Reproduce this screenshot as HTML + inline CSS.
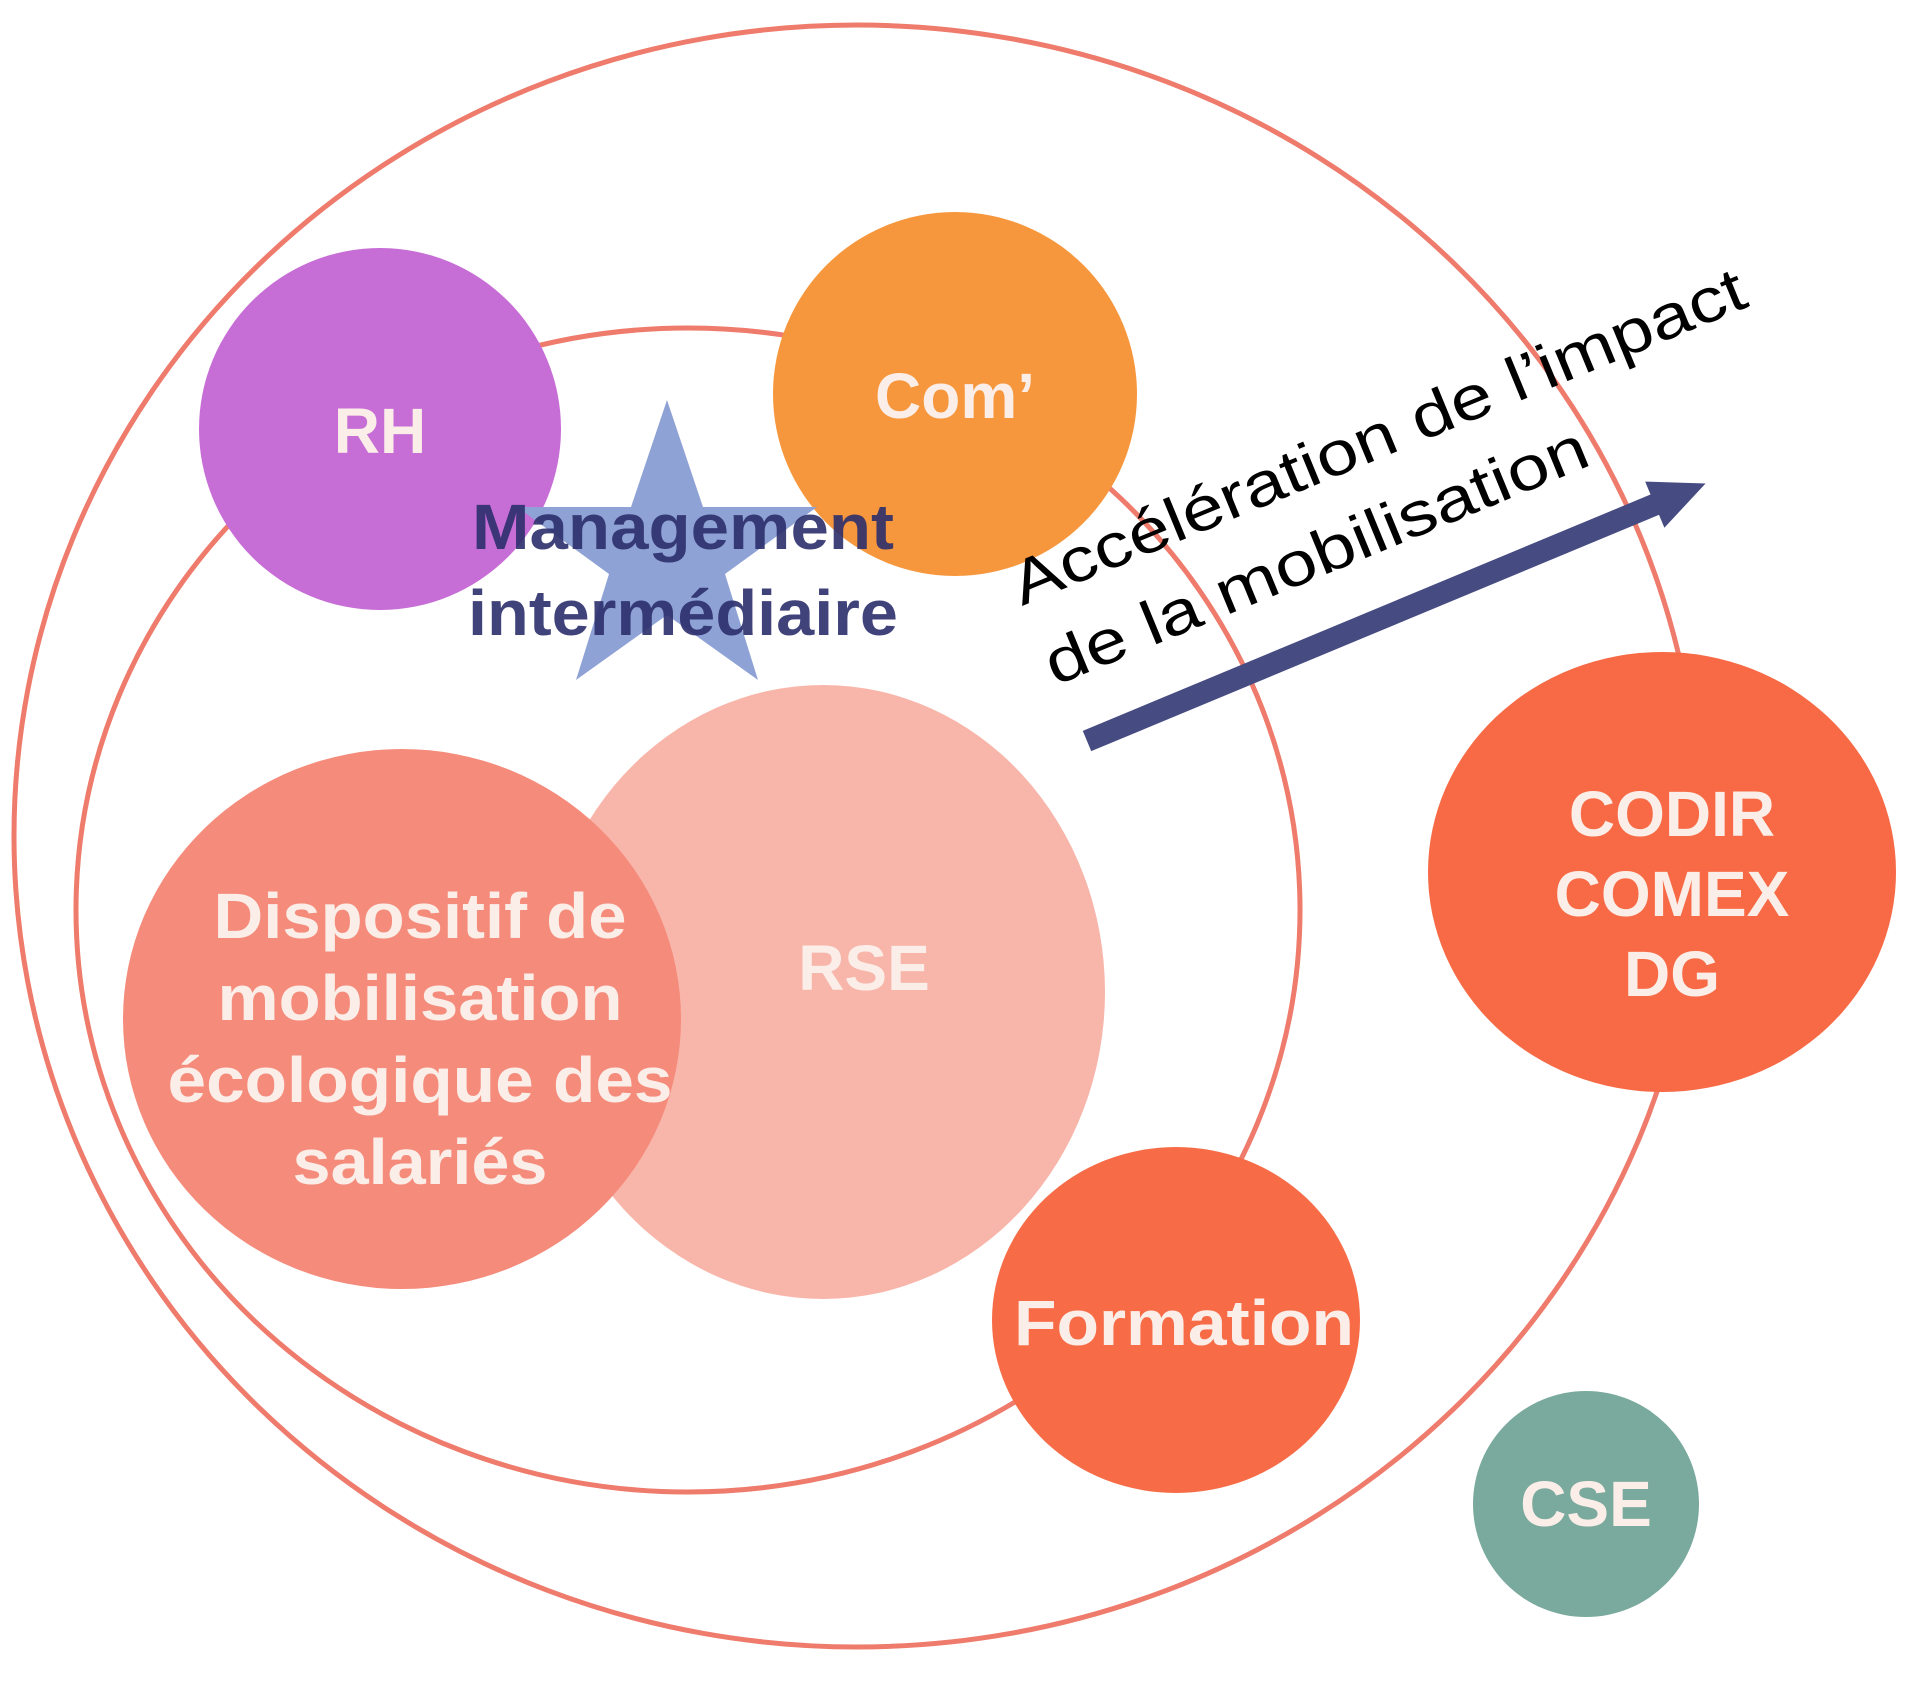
<!DOCTYPE html>
<html><head><meta charset="utf-8"><style>
html,body{margin:0;padding:0;background:#fff;}
svg{display:block}
text{font-family:"Liberation Sans",Arial,sans-serif;font-weight:bold;}
</style></head><body>
<svg width="1920" height="1685" viewBox="0 0 1920 1685" xmlns="http://www.w3.org/2000/svg">
<rect width="1920" height="1685" fill="#fff"/>
<ellipse cx="857" cy="836" rx="843" ry="811" fill="none" stroke="#ee7b6c" stroke-width="5"/>
<ellipse cx="688" cy="910" rx="612" ry="582" fill="none" stroke="#ee7b6c" stroke-width="5"/>

<circle cx="380" cy="429" r="181" fill="#c76dd6"/>
<circle cx="955" cy="394" r="182" fill="#f7973d"/>
<polygon points="667,400 703,507 817,507 725,574 758,680 667,615 576,680 609,574 517,507 631,507" fill="#8fa2d6"/>

<ellipse cx="823" cy="992" rx="282" ry="307" fill="#f8b6ab"/>
<ellipse cx="402" cy="1019" rx="279" ry="270" fill="#f58b7b"/>
<ellipse cx="1662" cy="872" rx="234" ry="220" fill="#f76a45"/>
<ellipse cx="1176" cy="1320" rx="184" ry="173" fill="#f76c47"/>
<circle cx="1586" cy="1504" r="113" fill="#7aa99d"/>

<g fill="#fbeee8" font-size="64" text-anchor="middle">
<text x="380" y="453">RH</text>
<text x="955" y="418">Com’</text>
<text x="864" y="990">RSE</text>
<text x="420" y="938" textLength="413" lengthAdjust="spacingAndGlyphs">Dispositif de</text>
<text x="420" y="1020" textLength="405" lengthAdjust="spacingAndGlyphs">mobilisation</text>
<text x="420" y="1102" textLength="505" lengthAdjust="spacingAndGlyphs">écologique des</text>
<text x="420" y="1184" textLength="255" lengthAdjust="spacingAndGlyphs">salariés</text>
<text x="1672" y="836">CODIR</text>
<text x="1672" y="916">COMEX</text>
<text x="1672" y="996">DG</text>
<text x="1184" y="1345" textLength="340" lengthAdjust="spacingAndGlyphs">Formation</text>
<text x="1586" y="1526">CSE</text>
</g>
<g fill="#2b2e6c" fill-opacity="0.9" font-size="64" text-anchor="middle">
<text x="683" y="549" textLength="422" lengthAdjust="spacingAndGlyphs">Management</text>
<text x="683" y="635" textLength="430" lengthAdjust="spacingAndGlyphs">intermédiaire</text>
</g>

<g transform="translate(1087,741) rotate(-22.6)">
<rect x="0" y="-11" width="625" height="22" fill="#464b82"/>
<polygon points="615,-25 670,0 615,25" fill="#464b82"/>
</g>
<g fill="#000" font-size="62">
<text transform="translate(1022,606) rotate(-22.4)" style="font-weight:normal" textLength="788" lengthAdjust="spacingAndGlyphs">Accélération de l’impact</text>
<text transform="translate(1055,686) rotate(-22.4)" style="font-weight:normal" textLength="582" lengthAdjust="spacingAndGlyphs">de la mobilisation</text>
</g>
</svg>
</body></html>
